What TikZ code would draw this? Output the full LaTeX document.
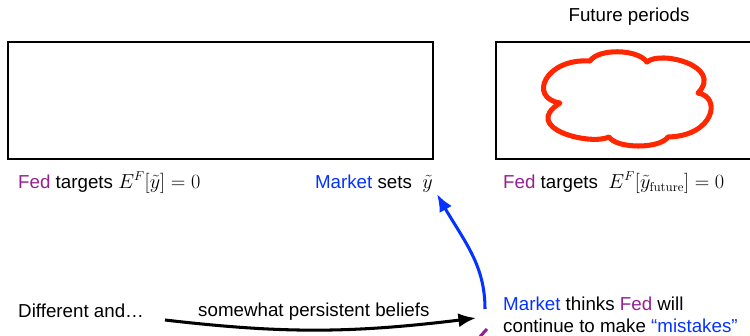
\documentclass[tikz,border=0pt]{standalone}
\usepackage[no-math]{fontspec}
\setmainfont{Liberation Sans}
\usepackage{amsmath}
\usepackage{tikz}
\definecolor{fedPurple}{RGB}{148,33,146}
\definecolor{marketBlue}{RGB}{4,51,255}
\definecolor{cloudRed}{RGB}{255,38,0}
\usetikzlibrary{arrows.meta,bending}

\begin{document}
\begin{tikzpicture}[
  x=0.03cm,
  y=-0.03cm,
  >=Latex,
  txt/.style={anchor=base west, inner sep=0pt, font=\fontsize{16}{22}\selectfont},
  pane/.style={draw, line width=0.9pt, minimum height=3.51cm, inner sep=0pt},
  fog/.style={draw=cloudRed, line width=4.3pt, line join=round},
  arr/.style={-{Latex[length=15pt,width=12pt]}, line width=2.6pt}
]
\useasboundingbox (0,0) rectangle (750,336);
\clip (0,0) rectangle (750,336);

% current and future periods
\node[pane, minimum width=12.75cm] (now) at (220.5,100.5) {};
\node[pane, minimum width=7.92cm] (later) at (628,100.5) {};
\node[txt, anchor=base] (futhdr) at (629,21) {Future periods};

% uncertain future: six puffs
\draw[fog] (560,103) .. controls (528,98) and (545,58) .. (590,61)
  .. controls (598,48.5) and (637,48.5) .. (647,62)
  .. controls (660,50) and (724,66) .. (698,93)
  .. controls (722,97) and (714,136) .. (668,137)
  .. controls (660,149) and (617,149) .. (609,137)
  .. controls (590,146) and (520,128) .. cycle;

\node[txt] (fedNow) at (18,188) {{\color{fedPurple}Fed} targets $E^F[\tilde{y}]=0$};
\node[txt, anchor=base east] (mktNow) at (433,188) {{\color{marketBlue}Market} sets\ \ $\tilde{y}$};
\node[txt] (fedLater) at (503,188) {{\color{fedPurple}Fed} targets\ \ $E^F[\tilde{y}_{\mathrm{future}}]=0$};

% beliefs
\node[txt] (diff) at (18,317) {Different and…};
\node[txt] (persist) at (198,316) {somewhat persistent beliefs};
\node[txt] (thinksA) at (503,310) {{\color{marketBlue}Market} thinks {\color{fedPurple}Fed} will};
\node[txt] (thinksB) at (503,332) {continue to make {\color{marketBlue}“mistakes”}};

\coordinate (beliefFrom) at (165,320);
\coordinate (beliefTo) at (476,318);
\coordinate (setFrom) at (485,309);
\coordinate (setTo) at (437,194);
\coordinate (fedFrom) at (477,340);
\coordinate (fedTo) at (487,329);

\draw[arr] (beliefFrom) to[bend right=7] (beliefTo);
\draw[arr, draw=marketBlue] (setFrom) to[out=90, in=-62] (setTo);
\draw[line width=2.6pt, draw=fedPurple] (fedFrom) -- (fedTo);
\end{tikzpicture}
\end{document}
